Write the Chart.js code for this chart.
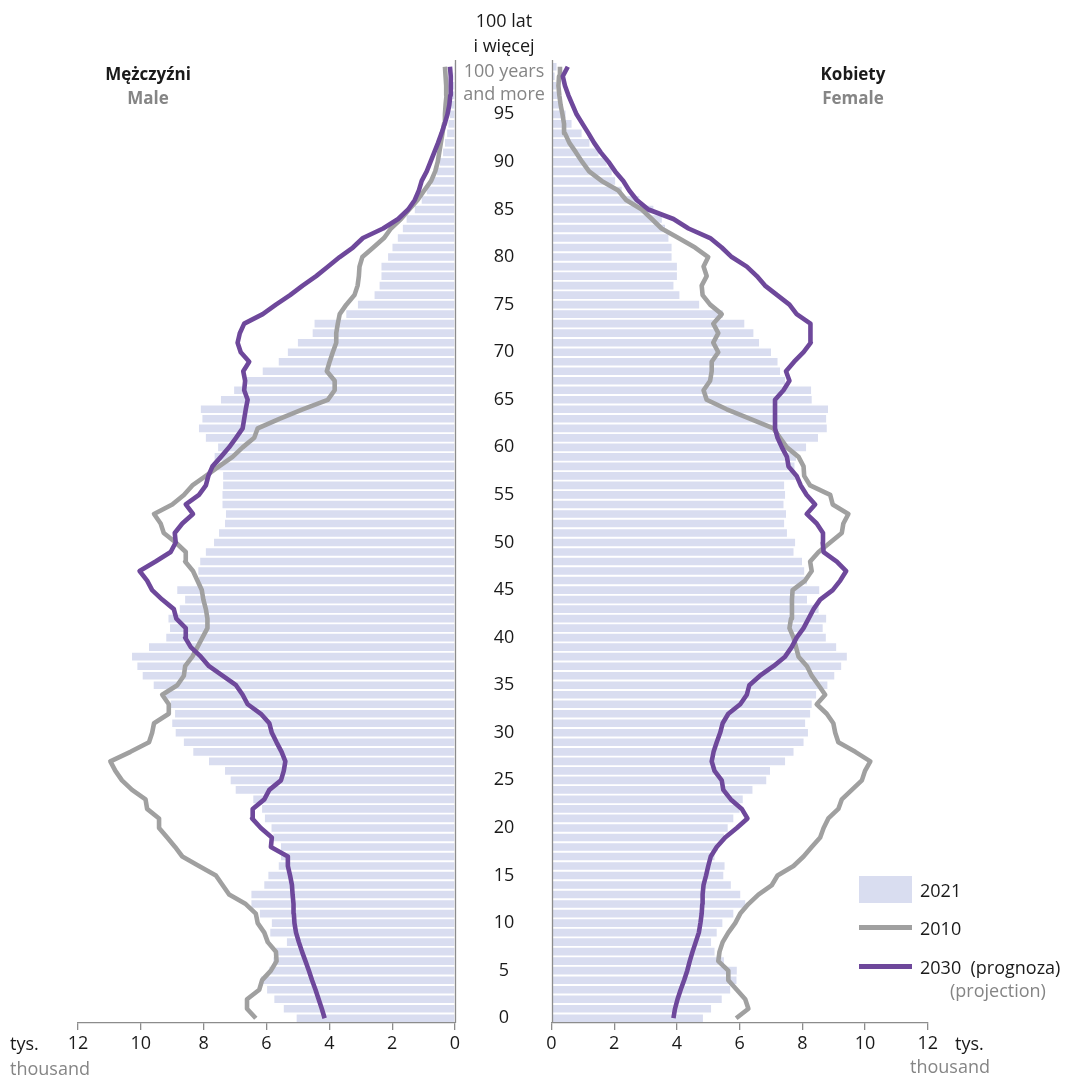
<!DOCTYPE html>
<html><head><meta charset="utf-8">
<script src="https://cdn.jsdelivr.net/npm/chart.js@4"></script>
<style>
body{margin:0;background:#fff;width:1079px;height:1078px;overflow:hidden;position:relative;font-family:"Open Sans",sans-serif;}
canvas{position:absolute;top:0;}
.t{position:absolute;white-space:nowrap;font-size:18px;line-height:1;color:#1a1a1a;transform:translate(-50%,-50%);}
.l{transform:translate(0,-50%);}
.g{color:#858585;}
.b{font-weight:700;font-size:17px;}
.sw{position:absolute;}
</style>
</head><body>
<canvas id="cm" width="540" height="1078" style="left:0"></canvas>
<canvas id="cf" width="539" height="1078" style="left:540px"></canvas>

<div class="t" style="left:504px;top:20px">100 lat</div>
<div class="t" style="left:504px;top:45px">i więcej</div>
<div class="t g" style="left:504px;top:70px">100 years</div>
<div class="t g" style="left:504px;top:93px">and more</div>

<div class="t b" style="left:148px;top:73px">Mężczyźni</div>
<div class="t b g" style="left:148px;top:97px">Male</div>
<div class="t b" style="left:853px;top:73px">Kobiety</div>
<div class="t b g" style="left:853px;top:97px">Female</div>

<div class="t l" style="left:10px;top:1043px">tys.</div>
<div class="t l g" style="left:10px;top:1068px">thousand</div>
<div class="t l" style="left:955px;top:1043px">tys.</div>
<div class="t l g" style="left:910px;top:1066px">thousand</div>

<div class="sw" style="left:859px;top:876px;width:53px;height:27px;background:#d9ddf0"></div>
<div class="t l" style="left:920px;top:890px">2021</div>
<div class="sw" style="left:859px;top:925px;width:53px;height:5px;background:#a0a0a0"></div>
<div class="t l" style="left:920px;top:928px">2010</div>
<div class="sw" style="left:859px;top:964px;width:53px;height:5px;background:#6e489b"></div>
<div class="t l" style="left:920px;top:967px">2030&nbsp;&nbsp;(prognoza)</div>
<div class="t l g" style="left:950px;top:990px">(projection)</div>

<script>
const ageLabels = Array.from({length:101}, (_, i) => String(i));
const ageTickLabels = ['0','5','10','15','20','25','30','35','40','45','50','55','60','65','70','75','80','85','90','95'];

const male2021 = [5.04,5.45,5.75,5.98,6.18,5.91,5.78,5.7,5.35,5.88,
5.83,6.21,6.48,6.48,6.07,5.94,5.61,5.54,5.54,5.78,
5.84,6.05,6.14,6.42,6.98,7.14,7.32,7.83,8.33,8.63,
8.89,9.0,8.91,9.05,9.2,9.59,9.94,10.11,10.28,9.74,
9.19,9.07,9.12,8.76,8.59,8.84,8.15,8.17,8.11,7.93,
7.67,7.51,7.32,7.29,7.40,7.40,7.38,7.38,7.56,7.65,
7.54,7.93,8.15,8.04,8.09,7.45,7.03,6.66,6.12,5.61,
5.32,5.0,4.53,4.47,3.46,3.09,2.56,2.40,2.34,2.34,
2.13,1.99,1.82,1.66,1.54,1.28,1.06,0.90,0.74,0.58,
0.48,0.38,0.32,0.25,0.21,0.16,0.12,0.09,0.06,0.04,0.03];

const male2010 = [6.34,6.62,6.62,6.23,6.14,5.86,5.68,5.70,5.96,6.07,
6.28,6.34,6.66,7.19,7.40,7.61,8.15,8.68,8.91,9.16,
9.42,9.42,9.80,9.85,10.28,10.6,10.81,10.97,10.33,9.74,
9.64,9.58,9.11,9.11,9.32,8.84,8.63,8.59,8.36,8.20,
8.04,7.88,7.88,7.93,8.01,8.06,8.20,8.34,8.59,8.57,
8.89,9.27,9.37,9.58,9.00,8.63,8.36,7.93,7.51,7.08,
6.76,6.39,6.28,5.59,4.85,4.05,3.83,3.83,4.08,3.99,
3.89,3.78,3.78,3.73,3.67,3.46,3.2,3.1,3.06,3.04,
2.95,2.6,2.26,2.04,1.72,1.46,1.19,0.98,0.76,0.63,
0.55,0.5,0.45,0.4,0.35,0.32,0.3,0.27,0.28,0.3,0.32];

const male2030 = [4.15,4.24,4.34,4.44,4.55,4.65,4.76,4.87,4.97,5.06,
5.11,5.13,5.14,5.17,5.19,5.25,5.32,5.32,5.86,5.83,
6.18,6.46,6.44,6.07,5.91,5.54,5.45,5.40,5.52,5.68,
5.83,5.91,6.18,6.60,6.76,6.97,7.40,7.83,8.09,8.41,
8.59,8.57,8.87,8.95,9.32,9.64,9.80,10.04,9.53,9.05,
8.89,8.92,8.68,8.34,8.57,8.15,7.93,7.85,7.72,7.45,
7.19,6.97,6.76,6.71,6.66,6.60,6.71,6.68,6.74,6.55,
6.82,6.92,6.85,6.71,6.12,5.70,5.25,4.85,4.42,4.04,
3.67,3.25,2.93,2.29,1.81,1.49,1.28,1.15,1.06,0.9,
0.78,0.66,0.54,0.43,0.33,0.24,0.18,0.15,0.13,0.14,0.16];

const female2021 = [4.83,5.09,5.43,5.7,5.9,5.91,5.5,5.20,5.09,5.27,
5.45,5.80,6.18,6.02,5.72,5.48,5.52,5.2,5.3,5.5,
5.62,5.80,6.0,6.10,6.41,6.85,6.97,7.45,7.72,8.04,
8.18,8.09,8.25,8.3,8.44,8.80,9.02,9.24,9.42,9.08,
8.75,8.65,8.76,8.52,8.15,8.54,8.15,8.06,7.99,7.72,
7.77,7.51,7.42,7.48,7.40,7.45,7.42,7.8,7.75,7.8,
8.12,8.50,8.78,8.76,8.82,8.30,8.28,7.45,7.29,7.21,
7.0,6.62,6.44,6.15,5.46,4.71,4.08,3.89,4.0,4.0,
3.83,3.83,3.73,3.62,3.52,3.25,2.8,2.24,2.03,1.92,
1.76,1.5,1.21,0.96,0.64,0.45,0.3,0.2,0.15,0.1,0.16];

const female2010 = [5.89,6.28,6.18,5.91,5.64,5.64,5.32,5.36,5.46,5.64,
5.86,6.02,6.28,6.60,7.03,7.21,7.72,8.04,8.30,8.57,
8.68,8.83,9.15,9.26,9.58,9.90,10.0,10.17,9.69,9.15,
9.05,8.99,8.78,8.46,8.73,8.52,8.30,8.15,7.88,7.80,
7.72,7.59,7.64,7.67,7.67,7.69,8.09,8.30,8.25,8.52,
8.89,9.26,9.31,9.47,8.97,8.89,8.25,8.06,8.04,7.88,
7.51,7.29,7.08,6.34,5.59,4.95,4.85,5.06,5.11,5.11,
5.32,5.16,5.32,5.16,5.43,5.06,4.82,4.79,4.95,4.85,
5.0,4.58,4.05,3.51,3.20,2.88,2.38,2.13,1.60,1.20,
0.98,0.78,0.57,0.43,0.40,0.35,0.29,0.25,0.22,0.24,0.27];

const female2030 = [3.89,3.94,4.02,4.12,4.23,4.33,4.41,4.50,4.60,4.70,
4.75,4.79,4.81,4.82,4.85,4.93,5.0,5.08,5.27,5.54,
5.91,6.25,6.07,5.72,5.48,5.43,5.2,5.11,5.17,5.27,
5.38,5.46,5.64,6.02,6.23,6.31,6.65,7.08,7.45,7.66,
7.82,8.04,8.20,8.36,8.57,8.97,9.21,9.40,9.10,8.68,
8.65,8.66,8.46,8.14,8.41,8.14,7.95,7.82,7.56,7.51,
7.35,7.21,7.13,7.13,7.13,7.13,7.40,7.59,7.48,7.74,
8.04,8.27,8.27,8.25,7.82,7.59,7.2,6.81,6.55,6.23,
5.75,5.43,5.06,4.37,3.89,3.09,2.72,2.48,2.29,2.03,
1.82,1.57,1.36,1.18,0.99,0.80,0.67,0.54,0.43,0.36,0.52];

const FONT = '"Open Sans", sans-serif';
const BAR = '#d9ddf0', GRAY = '#a0a0a0', PURPLE = '#6e489b', AXIS = '#8c8c8c';

const zeroLinePlugin = {
  id: 'zeroLine',
  afterDatasetsDraw(chart) {
    const ctx = chart.ctx, xs = chart.scales.x, ca = chart.chartArea;
    const x = Math.round(xs.getPixelForValue(0)) + 0.5;
    ctx.save();
    ctx.strokeStyle = AXIS;
    ctx.lineWidth = 1.3;
    ctx.beginPath();
    ctx.moveTo(x, ca.top - 2);
    ctx.lineTo(x, ca.bottom);
    ctx.stroke();
    ctx.restore();
  }
};

const agePlugin = {
  id: 'ageLabels',
  afterDraw(chart) {
    const ctx = chart.ctx, ys = chart.scales.y;
    ctx.save();
    ctx.font = '18px ' + FONT;
    ctx.fillStyle = '#1a1a1a';
    ctx.textAlign = 'center';
    ctx.textBaseline = 'middle';
    ageTickLabels.forEach(lbl => {
      const idx = ageLabels.indexOf(lbl);
      ctx.fillText(lbl, 504, ys.getPixelForValue(idx));
    });
    ctx.restore();
  }
};

function makeChart(id, bars, s2010, s2030, reverseX, pad, extra) {
  return new Chart(document.getElementById(id), {
    type: 'bar',
    data: {
      labels: ageLabels,
      datasets: [
        {type:'line', indexAxis:'y', data:s2030, borderColor:PURPLE, borderWidth:4.6, pointRadius:0, tension:0, borderJoinStyle:'round', order:1},
        {type:'line', indexAxis:'y', data:s2010, borderColor:GRAY, borderWidth:4.6, pointRadius:0, tension:0, borderJoinStyle:'round', order:2},
        {type:'bar', indexAxis:'y', data:bars, backgroundColor:BAR, barPercentage:1, categoryPercentage:0.8, order:3}
      ]
    },
    options: {
      indexAxis: 'y',
      responsive: false,
      animation: false,
      layout: {padding: pad},
      plugins: {legend:{display:false}, tooltip:{enabled:false}},
      scales: {
        x: {
          type: 'linear', min: 0, max: 12, reverse: reverseX,
          ticks: {stepSize: 2, color: '#1a1a1a', font: {family: FONT, size: 18}, padding: 3, maxRotation: 0},
          grid: {display: true, drawOnChartArea: false, drawTicks: true, color: AXIS, lineWidth: 1.3, tickLength: 7, tickColor: AXIS, tickWidth: 1.3},
          border: {display: true, color: AXIS, width: 1.3},
          afterFit: s => { s.height = 32; }
        },
        y: {type: 'category', reverse: true, display: false, offset: true}
      }
    },
    plugins: [zeroLinePlugin].concat(extra)
  });
}

makeChart('cm', male2021, male2010, male2030, true, {left:78, right:85, top:62, bottom:23}, [agePlugin]);
makeChart('cf', female2021, female2010, female2030, false, {left:11.5, right:151.3, top:62, bottom:23}, []);
</script>
</body></html>
